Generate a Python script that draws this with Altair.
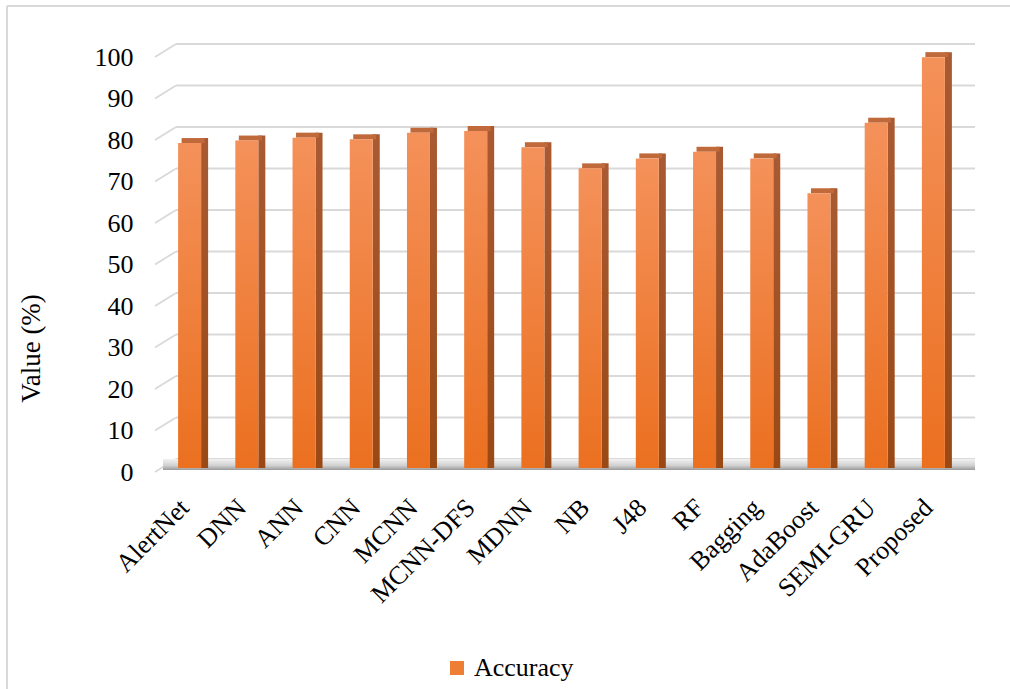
import altair as alt
import pandas as pd

categories = ["AlertNet", "DNN", "ANN", "CNN", "MCNN", "MCNN-DFS", "MDNN",
              "NB", "J48", "RF", "Bagging", "AdaBoost", "SEMI-GRU", "Proposed"]
accuracy = [78.3, 78.9, 79.6, 79.2, 80.8, 81.2, 77.3,
            72.2, 74.6, 76.2, 74.6, 66.2, 83.2, 99.0]
series_name = "Accuracy"
y_ticks = list(range(0, 101, 10))

df = pd.DataFrame({"model": categories, "value": accuracy,
                   "series": [series_name] * len(categories),
                   "base": [0] * len(categories)})
ticks_df = pd.DataFrame({"v": y_ticks})
one = pd.DataFrame({"base": [0]})

W, H = 801, 415
FONT = "Liberation Serif"
FRONT_W, SIDE_W, DEPTH = 23, 7, 5

yscale = alt.Scale(domain=[0, 100], nice=False, zero=True)
xscale = alt.Scale(paddingInner=0, paddingOuter=0)

x_axis = alt.Axis(title=None, labelAngle=-45, labelAlign="right", labelBaseline="top",
                  labelPadding=26, labelOffset=-14, labelFontSize=26, labelFont=FONT,
                  labelColor="black", domain=False, ticks=False, grid=False, labelOverlap=False)
y_axis = alt.Axis(values=y_ticks, grid=False, domain=False, ticks=False,
                  labelPadding=28, labelOffset=4, labelFontSize=26, labelFont=FONT,
                  labelColor="black", title="Value (%)", titleFont=FONT, titleFontSize=27,
                  titleFontWeight="normal", titleColor="black", titleX=-130, titleY=295,
                  titleAngle=-90, titleAlign="center", titleBaseline="middle")

GRID = "#d9d9d9"

def grad(stops):
    return alt.LinearGradient(gradient="linear", x1=0, x2=0, y1=0, y2=1,
                              stops=[alt.GradientStop(offset=o, color=c) for o, c in stops])

X = alt.X("model:N", scale=xscale, sort=categories, axis=x_axis)
Yv = alt.Y("value:Q", scale=yscale, axis=y_axis)

grid_slant = alt.Chart(ticks_df).mark_rule(color=GRID, strokeWidth=1.8, yOffset=4, y2Offset=-9).encode(
    y=alt.Y("v:Q", scale=yscale, axis=y_axis), y2="v:Q",
    x=alt.value(-6), x2=alt.value(15))
grid_h = alt.Chart(ticks_df).mark_rule(color=GRID, strokeWidth=1.8, yOffset=-9, y2Offset=-9).encode(
    y=alt.Y("v:Q", scale=yscale, axis=y_axis), y2="v:Q",
    x=alt.value(15), x2=alt.value(814))

floor = alt.Chart(one).mark_rect(
    yOffset=-9, y2Offset=2,
    color=grad([(0, "#f2f2f2"), (0.6, "#d0d0d0"), (1, "#9a9a9a")])).encode(
    y=alt.Y("base:Q", scale=yscale, axis=y_axis), y2="base:Q",
    x=alt.value(2), x2=alt.value(814))

side = alt.Chart(df).mark_bar(
    width=SIDE_W, xOffset=FRONT_W / 2 + SIDE_W / 2, yOffset=-DEPTH,
    color=grad([(0, "#a95a32"), (1, "#9a4915")])).encode(
    x=X, y=Yv, y2="base:Q")

top = alt.Chart(df).mark_bar(
    width=FRONT_W, xOffset=SIDE_W / 2, yOffset=-DEPTH, y2Offset=0,
    color="#c0693a").encode(
    x=X, y=Yv, y2="value:Q")

front = alt.Chart(df).mark_bar(
    width=FRONT_W,
    color=grad([(0, "#f4915a"), (1, "#eb7020")])).encode(
    x=X, y=Yv)

legend_layer = alt.Chart(df).mark_bar(width=FRONT_W, opacity=0).encode(
    x=X, y=Yv,
    color=alt.Color("series:N", scale=alt.Scale(range=["#ef7e35"]),
                    legend=alt.Legend(title=None, orient="none", legendX=283, legendY=602,
                                      symbolType="square", symbolSize=196, symbolOpacity=1,
                                      symbolStrokeWidth=0, labelFont=FONT, labelFontSize=26,
                                      labelColor="black", labelOffset=4)))

border_left = alt.Chart(one).mark_rule(color="#d9d9d9", strokeWidth=2).encode(
    x=alt.value(-154), y=alt.value(-47), y2=alt.value(H + 221))
border_top = alt.Chart(one).mark_rule(color="#d9d9d9", strokeWidth=2).encode(
    x=alt.value(-154), x2=alt.value(W + 48), y=alt.value(-47))

chart = alt.layer(border_left, border_top, grid_slant, grid_h, floor, side, top, front, legend_layer).properties(
    width=W, height=H,
    padding={"left": 161, "top": 53, "right": 48, "bottom": 221},
    autosize=alt.AutoSizeParams(type="none"),
    background="white",
).configure_view(stroke=None)

chart.save("out.html", embed_options={"renderer": "svg", "actions": False})
